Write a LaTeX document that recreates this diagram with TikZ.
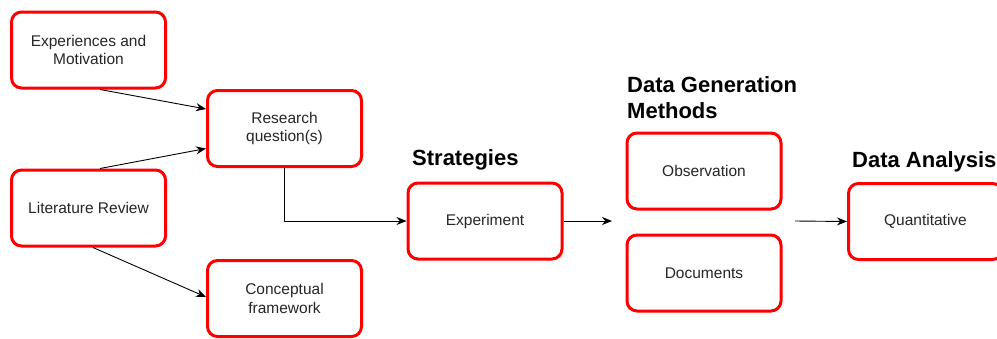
\documentclass[tikz,border=0pt]{standalone}
\usepackage{fontspec}
\setmainfont{Liberation Sans}
\usetikzlibrary{arrows.meta}
\tikzset{
  stage/.style={draw=red, line width=3pt, rounded corners=10pt, fill=white,
    minimum width=154pt, minimum height=76pt, align=center, inner sep=2pt,
    font=\fontsize{15.5}{18.5}\selectfont, text=black!85},
  heading/.style={anchor=west, align=left, inner sep=0pt,
    font=\fontsize{22}{26}\selectfont\bfseries},
  link/.style={-{Stealth[length=10pt,width=8pt]}, line width=0.9pt}
}
\begin{document}
\begin{tikzpicture}[x=1pt, y=-1pt]
      \useasboundingbox (0,0) rectangle (997,338);
      \node[stage] (exper) at (88.5,50) {Experiences and\\Motivation};
      \node[stage] (resq) at (284.5,128.5) {Research\\question(s)};
      \node[stage] (litrev) at (88.5,208) {Literature Review};
      \node[stage] (concept) at (284.5,298.5) {Conceptual\\framework};
      \node[stage] (experiment) at (485,221) {Experiment};
      \node[stage] (observ) at (704,171) {Observation};
      \node[stage] (docs) at (704,273) {Documents};
      \node[stage] (quant) at (925.5,221.5) {Quantitative};
      \node[heading] (strat) at (412,160) {Strategies};
      \node[heading, anchor=north west] (datagen) at (627,76) {Data Generation\\Methods};
      \node[heading] (analysis) at (852,162) {Data Analysis};
      \coordinate (gapin) at (612,221);
      \coordinate (gapout) at (795,221);
      \begin{scope}[link]
        \draw ([xshift=11.5pt]exper.south) to ([yshift=19.5pt]resq.west);
        \draw ([xshift=11.5pt]litrev.north) to ([yshift=-20pt]resq.west);
        \draw ([xshift=4.5pt]litrev.south) to ([yshift=1.5pt]concept.west);
        \draw (resq.south) |- (experiment.west);
        \draw (experiment.east) to (gapin);
        \draw (gapout) to (quant.west);
      \end{scope}
    \end{tikzpicture}
\end{document}
